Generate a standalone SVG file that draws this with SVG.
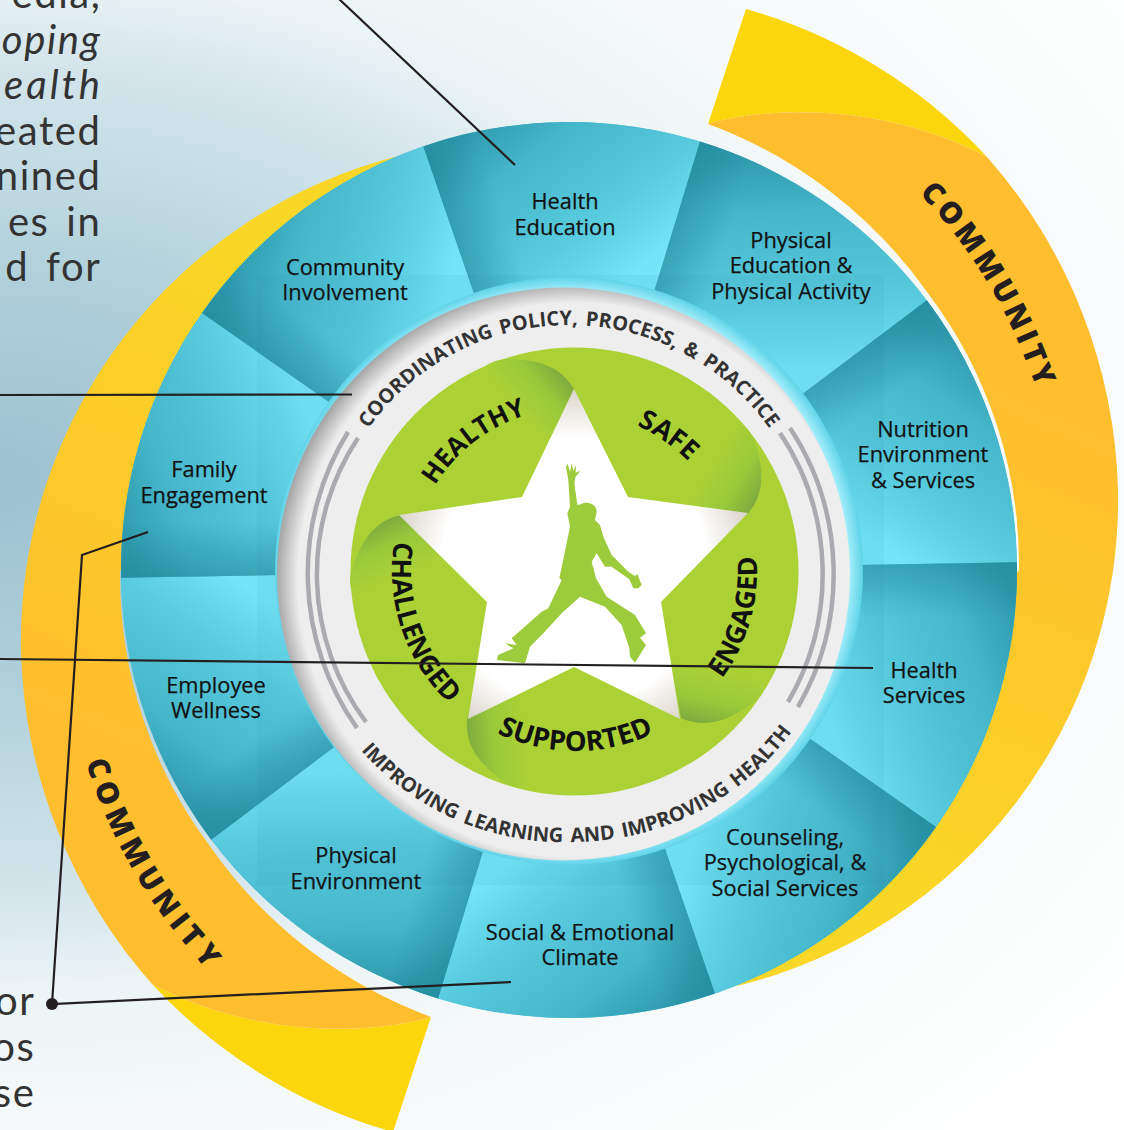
<svg xmlns="http://www.w3.org/2000/svg" width="1124" height="1130" viewBox="0 0 1124 1130">
<style>
.lbl{font:400 21.8px "Open Sans","Noto Sans",sans-serif;fill:#111;stroke:#111;stroke-width:.25;text-anchor:middle}
.body{font:400 40px Lato,"Open Sans",sans-serif;fill:#333;text-anchor:end;letter-spacing:1.6px;word-spacing:5px}
.it{font-style:italic}
.wide{letter-spacing:3px}
.ring{font:700 20px "Open Sans","Noto Sans",sans-serif;fill:#333;text-anchor:middle;word-spacing:2.5px}
.word{font:700 27px "Open Sans","Noto Sans",sans-serif;fill:#111;text-anchor:middle}
.comm{font:800 30px "Open Sans","Noto Sans",sans-serif;fill:#231f20;letter-spacing:4px}
.ln{fill:none;stroke:#231f20;stroke-width:2.2}
.arc{fill:none;stroke:#aaaab0;stroke-width:4.5}
</style>
<defs>
<radialGradient id="bg" gradientUnits="userSpaceOnUse" cx="0" cy="0" r="1" gradientTransform="translate(0 480) scale(1440 960)">
<stop offset="0" stop-color="#9cc1cf"/><stop offset=".2" stop-color="#aecfda"/><stop offset=".44" stop-color="#d5e6ec"/><stop offset=".53" stop-color="#ebf4f6"/><stop offset=".66" stop-color="#f5f9fa"/><stop offset="1" stop-color="#fff"/>
</radialGradient>
<linearGradient id="gBand" gradientUnits="userSpaceOnUse" x1="1100" y1="430" x2="900" y2="900">
<stop offset="0" stop-color="#ffbe2e"/><stop offset="1" stop-color="#fad726"/>
</linearGradient>
<linearGradient id="gSeg" gradientUnits="userSpaceOnUse" x1="470" y1="130" x2="600" y2="300">
<stop offset="0" stop-color="#2f9bae"/><stop offset=".26" stop-color="#45b5c9"/><stop offset=".7" stop-color="#5accdf"/><stop offset="1" stop-color="#74e4f6"/>
</linearGradient>
<linearGradient id="gEdge" gradientUnits="userSpaceOnUse" x1="448" y1="221" x2="500" y2="204">
<stop offset="0" stop-color="#1d8496" stop-opacity=".5"/><stop offset="1" stop-color="#1d8496" stop-opacity="0"/>
</linearGradient>
<radialGradient id="gRing" gradientUnits="userSpaceOnUse" cx="575" cy="580" r="298">
<stop offset="0" stop-color="#eee"/><stop offset=".93" stop-color="#eee"/><stop offset="1" stop-color="#a8a8a8"/>
</radialGradient>
<radialGradient id="gCyan" gradientUnits="userSpaceOnUse" cx="569" cy="571" r="294">
<stop offset="0" stop-color="#c5f6ff"/><stop offset=".95" stop-color="#a9f0fc"/><stop offset="1" stop-color="#5fd3e8"/>
</radialGradient>
<radialGradient id="gStar" gradientUnits="userSpaceOnUse" cx="574" cy="571" r="186">
<stop offset="0" stop-color="#fff"/><stop offset=".72" stop-color="#fff"/><stop offset="1" stop-color="#d8d2c6"/>
</radialGradient>
<linearGradient id="gLobe" gradientUnits="userSpaceOnUse" x1="572" y1="372" x2="522" y2="415">
<stop offset="0" stop-color="#76a040"/><stop offset=".5" stop-color="#98c93a"/><stop offset="1" stop-color="#acd135"/>
</linearGradient>
<g id="seg">
<path d="M423.1,146.4A448,448 0 0 1 700,141.6L653.8,292.7A290,290 0 0 0 474.6,295.8Z" fill="url(#gSeg)"/>
<path d="M423.1,146.4A448,448 0 0 1 700,141.6L653.8,292.7A290,290 0 0 0 474.6,295.8Z" fill="url(#gEdge)"/>
</g>
<path id="lobe" d="M574,389C562,370 545,359 505,359C480,362 465,380 470,430L522,497Z" fill="url(#gLobe)"/>
<g id="band">
<path d="M746,9A522,522 0 0 1 987,157C880,100 760,108 708,124Z" fill="#fcd60d"/>
<path d="M708,124C760,108 880,100 987,157A522,522 0 0 1 1118,490A501,501 0 0 1 737,986L1019,570A450,450 0 0 0 927,292A465,465 0 0 0 708,124Z" fill="url(#gBand)"/>
</g>
<clipPath id="cBlue"><circle cx="569" cy="570" r="448"/></clipPath>
<path id="tTop" d="M569,817A246,246 0 1 1 569,325A246,246 0 1 1 569,817"/>
<path id="tBot" d="M557.2,300.3A271,271 0 1 0 580.8,841.7A271,271 0 1 0 557.2,300.3"/>
<path id="tHealthy" d="M673.8,700.1A163,163 0 1 1 474.2,441.9A163,163 0 1 1 673.8,700.1"/>
<path id="tSafe" d="M483.8,700.7A158,158 0 1 1 664.2,441.3A158,158 0 1 1 483.8,700.7"/>
<path id="tEngaged" d="M397.8,521.4A183,183 0 1 0 750.2,620.6A183,183 0 1 0 397.8,521.4"/>
<path id="tSupported" d="M575.5,391A180,180 0 1 0 575.5,751A180,180 0 1 0 575.5,391"/>
<path id="tChallenged" d="M746.4,512.6A182,182 0 1 0 401.6,629.4A182,182 0 1 0 746.4,512.6"/>
<path id="tCommR" d="M919,193A510,510 0 0 1 1030,372L1060,440"/>
<path id="tCommL" d="M86,762A510,510 0 0 0 197,958L235,1010"/>
</defs>

<rect width="1124" height="1130" fill="url(#bg)"/>

<g id="body-text-top">
<text class="body" x="101.5" y="8">edia,</text>
<text class="body it" x="101.5" y="53.5">oping</text>
<text class="body it wide" x="103" y="99">ealth</text>
<text class="body" x="101.5" y="144.5">eated</text>
<text class="body" x="101.5" y="190">nined</text>
<text class="body" x="101.5" y="236">es in</text>
<text class="body" x="101.5" y="281">d for</text>
</g>
<g id="body-text-bottom">
<text class="body" x="35.5" y="1015">or</text>
<text class="body" x="35.5" y="1061">os</text>
<text class="body" x="35.5" y="1107">se</text>
</g>

<g id="community-right">
<use href="#band"/>
<text class="comm"><textPath href="#tCommR">COMMUNITY</textPath></text>
</g>
<g id="community-left">
<use href="#band" transform="rotate(180 569.5 570.5)"/>
<text class="comm" style="letter-spacing:5.5px"><textPath href="#tCommL">COMMUNITY</textPath></text>
</g>

<circle cx="569" cy="570" r="448" fill="#4fbfd3" id="blue-base"/>

<g id="node-health-education"><use href="#seg"/>
<text class="lbl" x="565" y="209">Health</text><text class="lbl" x="565" y="235">Education</text></g>
<g id="node-physical-education"><use href="#seg" transform="rotate(36 569 570)"/>
<text class="lbl" x="791" y="248">Physical</text><text class="lbl" x="791" y="273">Education &amp;</text><text class="lbl" x="791" y="299">Physical Activity</text></g>
<g id="node-nutrition"><use href="#seg" transform="rotate(72 569 570)"/>
<text class="lbl" x="923" y="437">Nutrition</text><text class="lbl" x="923" y="462">Environment</text><text class="lbl" x="923" y="488">&amp; Services</text></g>
<g id="node-health-services"><use href="#seg" transform="rotate(108 569 570)"/>
<text class="lbl" x="924" y="678">Health</text><text class="lbl" x="924" y="703">Services</text></g>
<g id="node-counseling"><use href="#seg" transform="rotate(144 569 570)"/>
<text class="lbl" x="785" y="845">Counseling,</text><text class="lbl" x="785" y="870">Psychological, &amp;</text><text class="lbl" x="785" y="896">Social Services</text></g>
<g id="node-social-emotional"><use href="#seg" transform="rotate(180 569 570)"/>
<text class="lbl" x="580" y="940">Social &amp; Emotional</text><text class="lbl" x="580" y="965">Climate</text></g>
<g id="node-physical-environment"><use href="#seg" transform="rotate(216 569 570)"/>
<text class="lbl" x="356" y="863">Physical</text><text class="lbl" x="356" y="889">Environment</text></g>
<g id="node-employee-wellness"><use href="#seg" transform="rotate(252 569 570)"/>
<text class="lbl" x="216" y="693">Employee</text><text class="lbl" x="216" y="718">Wellness</text></g>
<g id="node-family-engagement"><use href="#seg" transform="rotate(288 569 570)"/>
<text class="lbl" x="204" y="477">Family</text><text class="lbl" x="204" y="503">Engagement</text></g>
<g id="node-community-involvement"><use href="#seg" transform="rotate(324 569 570)"/>
<text class="lbl" x="345" y="275">Community</text><text class="lbl" x="345" y="300">Involvement</text></g>

<rect x="257" y="275" width="627" height="610" fill="#0b6b80" opacity=".05" clip-path="url(#cBlue)"/>

<g id="hub-ring">
<circle cx="569" cy="571" r="294" fill="url(#gCyan)"/>
<circle cx="563.5" cy="574" r="286.5" fill="url(#gRing)"/>
<path class="arc" d="M358,438A246.5,246.5 0 0 0 366,722"/>
<path class="arc" d="M348,432A268,268 0 0 0 357,728"/>
<path class="arc" d="M780,433A254,254 0 0 1 788,702"/>
<path class="arc" d="M790,428A266,266 0 0 1 798,707"/>
<text class="ring"><textPath href="#tTop" startOffset="50%">COORDINATING POLICY, PROCESS, &amp; PRACTICE</textPath></text>
<text class="ring"><textPath href="#tBot" startOffset="50%">IMPROVING LEARNING AND IMPROVING HEALTH</textPath></text>
</g>

<g id="hub-star">
<circle cx="574.5" cy="571.5" r="224" fill="#acd135"/>
<use href="#lobe"/>
<use href="#lobe" transform="rotate(72 574 571)"/>
<use href="#lobe" transform="rotate(144 574 571)"/>
<use href="#lobe" transform="rotate(216 574 571)"/>
<use href="#lobe" transform="rotate(288 574 571)"/>
<path d="M574,389L628,497L748,513L661,602L680,719L574,667L468,719L487,602L399,515L522,497Z" fill="url(#gStar)"/>
<path transform="translate(340 340) scale(.33333)" fill="#9ccb3b" d="M683,372L690,395L695,370L700,392L708,375L707,398L721,392L706,412L703,430L712,495L722,493C735,482 770,490 770,515L765,540L780,555L790,590L815,645L865,695L885,708L892,702L905,735L895,745L880,745L868,718L815,680L795,680L770,640L755,665L768,715L800,770L885,825L918,880L900,893L918,915L885,968L870,950L868,925L845,855L795,800L720,770L665,820L610,880L570,920L555,970L470,960L475,945L520,925L495,910L530,915L515,895L605,815L625,805L665,720L658,715L680,610L690,560L682,520L690,500L685,420L678,380Z"/>
<text class="word" style="font-size:26px"><textPath href="#tHealthy" startOffset="50%">HEALTHY</textPath></text>
<text class="word"><textPath href="#tSafe" startOffset="50%">SAFE</textPath></text>
<text class="word"><textPath href="#tEngaged" startOffset="50%">ENGAGED</textPath></text>
<text class="word" style="font-size:27.5px"><textPath href="#tSupported" startOffset="50%">SUPPORTED</textPath></text>
<text class="word"><textPath href="#tChallenged" startOffset="50%">CHALLENGED</textPath></text>
</g>

<g id="connectors">
<line class="ln" x1="338" y1="-2" x2="515" y2="165"/>
<line class="ln" x1="0" y1="395" x2="352" y2="394.5"/>
<line class="ln" x1="0" y1="659" x2="873" y2="668"/>
<polyline class="ln" points="148,532 82,555 52,1004 511,982"/>
<circle cx="52" cy="1004" r="6" fill="#231f20"/>
</g>
</svg>
